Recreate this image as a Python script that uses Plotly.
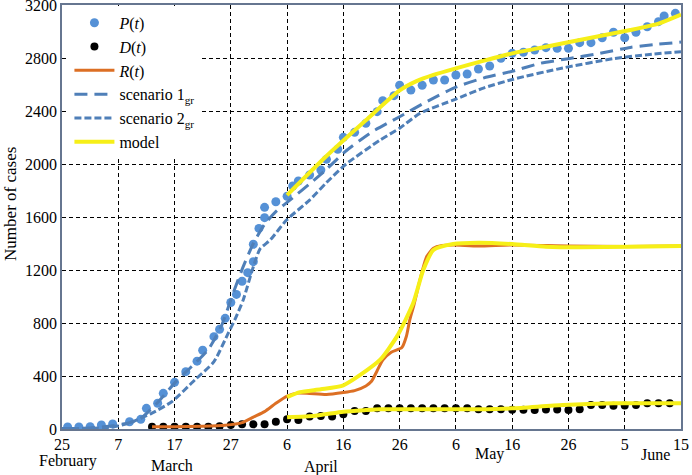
import plotly.graph_objects as go

# x = days since 25 February (axis ticks every 10 days)
tick_vals = [0, 10, 20, 30, 40, 50, 60, 70, 80, 90, 100, 110]
tick_text = ["25", "7", "17", "27", "6", "16", "26", "6", "16", "26", "5", "15"]
month_names = ["February", "March", "April", "May", "June"]
month_pos = [1, 19.5, 46, 76, 105.5]
month_y = [-0.075, -0.087, -0.089, -0.059, -0.059]

P_day = [1, 3, 5, 7, 9, 12, 14, 15, 17, 18, 20, 22, 24, 25, 27, 28, 29, 30, 31, 32,
         33, 34, 34, 35, 36, 36, 38, 40, 41, 42, 44, 46, 47, 49, 50, 52, 54, 56, 57, 59,
         60, 62, 64, 66, 68, 70, 72, 74, 76, 78, 80, 82, 84, 86, 88, 90, 92, 94, 96, 98,
         100, 102, 104, 106, 107, 109]
P_val = [15, 15, 17, 30, 38, 55, 73, 156, 194, 269, 352, 433, 512, 594, 697, 752, 835, 955, 1016, 1115,
         1180, 1263, 1394, 1514, 1595, 1673, 1715, 1757, 1834, 1872, 1917, 1955, 2035, 2111, 2201, 2239, 2307, 2395, 2478, 2516,
         2594, 2558, 2594, 2634, 2634, 2672, 2679, 2717, 2740, 2798, 2835, 2843, 2860, 2878, 2873, 2873, 2916, 2916, 2953, 2994,
         2953, 2994, 3036, 3074, 3117, 3137]

D_day = list(range(16, 110, 2))
D_val = [17, 17, 17, 17, 17, 17, 20, 30, 35, 35, 35, 55, 73, 68, 95, 98, 95, 111, 136, 136,
         156, 156, 156, 156, 156, 156, 156, 156, 156, 150, 150, 150, 145, 145, 143, 147, 147, 143, 150, 181,
         181, 175, 178, 181, 194, 194, 194]

R_day = [16, 20, 25, 29, 32, 34, 36, 38, 40, 42, 44, 47, 50, 52, 54, 55, 56, 57, 58.5, 60.4,
         61.2, 61.8, 62.5, 63.6, 64.8, 66, 67.5, 69.5, 74, 80, 90, 100, 110]
R_val = [17, 17, 20, 28, 48, 90, 131, 194, 249, 272, 268, 260, 275, 290, 325, 360, 440, 521, 580, 615,
         700, 823, 930, 1124, 1300, 1364, 1385, 1389, 1381, 1389, 1381, 1378, 1381]

S1_day = [0, 5, 9, 12, 14, 17, 20.4, 23, 26, 28.4, 30.4, 32.2, 34, 36, 38, 41, 44, 47, 50.5, 55,
          60, 65, 70, 75, 80, 85, 90, 95, 101, 105, 110]
S1_val = [3, 8, 25, 48, 80, 200, 365, 470, 600, 785, 1024, 1225, 1400, 1545, 1640, 1745, 1850, 1960, 2100, 2240,
          2357, 2475, 2580, 2650, 2700, 2760, 2795, 2830, 2880, 2900, 2920]

S2_day = [0, 5, 9, 11.8, 15.9, 19.5, 23.6, 27, 29.5, 30.7, 32.2, 34, 35.2, 37, 39.9, 44, 47, 50.5, 56.5, 60,
          63.6, 70, 75, 80.2, 89, 98, 104, 110]
S2_val = [2, 5, 15, 43, 118, 206, 370, 508, 720, 823, 974, 1225, 1360, 1426, 1577, 1728, 1860, 2000, 2180, 2270,
          2382, 2490, 2575, 2640, 2725, 2795, 2825, 2848]

MP_day = [40, 47, 54, 60, 63, 66, 70, 75, 80, 86, 92, 101, 106, 110]
MP_val = [1765, 2060, 2330, 2555, 2625, 2672, 2722, 2780, 2835, 2885, 2936, 3011, 3060, 3128]

MR_day = [40, 42.3, 46, 50, 53, 56.5, 59.5, 62.4, 64.2, 66, 69.5, 74, 80, 86, 92, 101, 110]
MR_val = [240, 278, 300, 330, 408, 521, 697, 949, 1200, 1351, 1396, 1406, 1396, 1376, 1371, 1376, 1381]

MD_day = [40, 45, 50, 54, 56.5, 74, 80, 89, 98, 110]
MD_val = [88, 100, 131, 143, 149, 149, 156, 181, 194, 194]

FONT = "Liberation Serif"
BLUE_DOT = "#5591d6"
BLUE_LINE = "#4f7fb8"
ORANGE = "#dc6f24"
YELLOW = "#f6ef18"

fig = go.Figure()
fig.add_trace(go.Scatter(x=P_day, y=P_val, mode="markers", name="<i>P</i>(<i>t</i>)",
                         marker=dict(color=BLUE_DOT, size=9)))
fig.add_trace(go.Scatter(x=D_day, y=D_val, mode="markers", name="<i>D</i>(<i>t</i>)",
                         marker=dict(color="black", size=8)))
fig.add_trace(go.Scatter(x=R_day, y=R_val, mode="lines", name="<i>R</i>(<i>t</i>)",
                         line=dict(color=ORANGE, width=3, shape="spline", smoothing=0.6)))
fig.add_trace(go.Scatter(x=S1_day, y=S1_val, mode="lines", name="scenario 1<sub>gr</sub>",
                         line=dict(color=BLUE_LINE, width=3, dash="13px,7px", shape="spline", smoothing=0.6)))
fig.add_trace(go.Scatter(x=S2_day, y=S2_val, mode="lines", name="scenario 2<sub>gr</sub>",
                         line=dict(color=BLUE_LINE, width=3, dash="7px,3px", shape="spline", smoothing=0.6)))
fig.add_trace(go.Scatter(x=MP_day, y=MP_val, mode="lines", name="model", legendgroup="model",
                         line=dict(color=YELLOW, width=4, shape="spline", smoothing=0.6)))
fig.add_trace(go.Scatter(x=MR_day, y=MR_val, mode="lines", name="model", legendgroup="model", showlegend=False,
                         line=dict(color=YELLOW, width=4, shape="spline", smoothing=0.6)))
fig.add_trace(go.Scatter(x=MD_day, y=MD_val, mode="lines", name="model", legendgroup="model", showlegend=False,
                         line=dict(color=YELLOW, width=4, shape="spline", smoothing=0.6)))

for name, xp, yp in zip(month_names, month_pos, month_y):
    fig.add_annotation(text=name, x=xp, y=yp, xref="x", yref="paper", showarrow=False,
                       font=dict(family=FONT, size=16, color="black"), yanchor="middle", xanchor="center")

fig.add_annotation(text="Number of cases", x=-0.083, y=0.53, xref="paper", yref="paper",
                   xanchor="center", yanchor="middle",
                   textangle=-90, showarrow=False, font=dict(family=FONT, size=17, color="black"))

axis_common = dict(showline=True, mirror=True, linecolor="#667690", linewidth=1.5,
                   showgrid=True, gridcolor="black", gridwidth=1.2, griddash="4px,3px",
                   zeroline=False, ticks="", automargin=False, ticklabeloverflow="allow",
                   tickfont=dict(family=FONT, size=16, color="black"))

fig.update_xaxes(range=[0, 110], tickvals=tick_vals, ticktext=tick_text, **axis_common)
fig.update_yaxes(range=[0, 3200], tickvals=list(range(0, 3201, 400)), **axis_common)

fig.update_layout(
    width=692, height=475,
    margin=dict(l=62, r=11, t=5, b=46, autoexpand=False),
    paper_bgcolor="white", plot_bgcolor="white",
    font=dict(family=FONT, size=16, color="black"),
    showlegend=True,
    legend=dict(x=0.012, y=0.998, xanchor="left", yanchor="top", bgcolor="white",
                borderwidth=0, font=dict(family=FONT, size=16, color="black"),
                tracegroupgap=0, itemwidth=40),
)

fig.write_html("out.html", config={"displayModeBar": False},
               post_script="document.body.style.margin='0';document.body.style.padding='0';")
